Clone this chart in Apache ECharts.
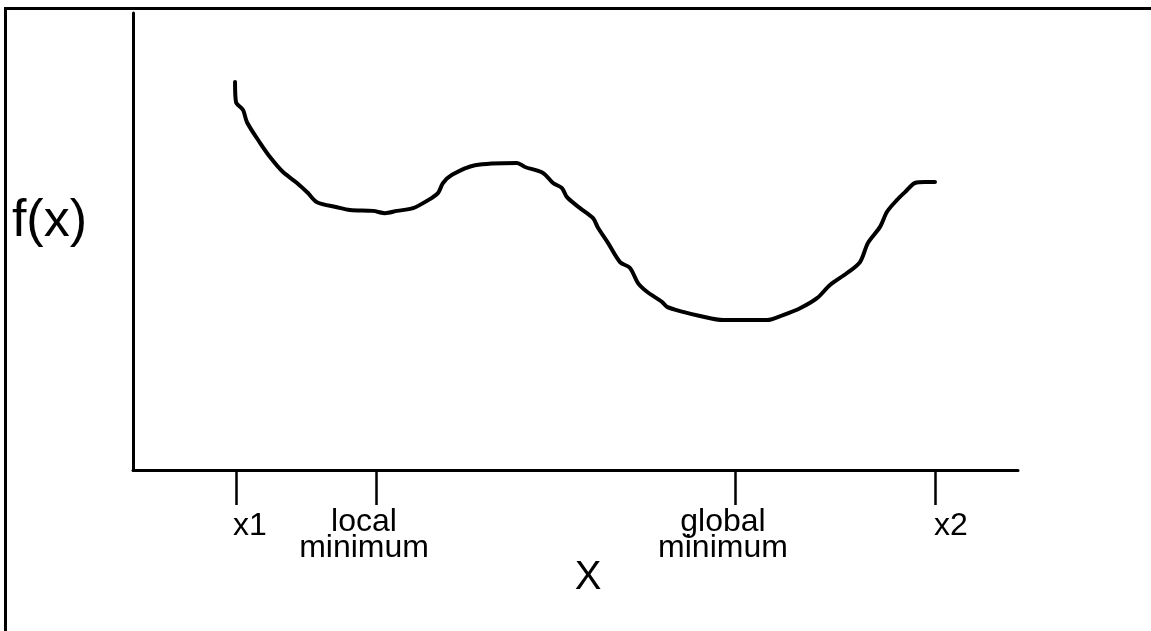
<!DOCTYPE html>
<html>
<head>
<meta charset="utf-8">
<script src="https://cdn.jsdelivr.net/npm/echarts@6/dist/echarts.min.js"></script>
<style>
  html, body { margin: 0; padding: 0; background: #fff; }
  #main { width: 1151px; height: 631px; }
  #frame {
    position: absolute; left: 4px; top: 7px; width: 1160px; height: 640px;
    border-top: 3px solid #000; border-left: 3px solid #000; pointer-events: none;
  }
</style>
</head>
<body>
<div id="main"></div>
<div id="frame"></div>
<script>
// curve (x: 0-100 along the axis, y: 0-100 up the axis)
const curveX = [11.53, 11.64, 12.43, 12.88, 14.35, 15.48, 16.95, 18.53, 19.77, 20.79,
  23.05, 24.52, 27.12, 28.47, 29.83, 31.64, 33.22, 34.46, 35.03, 36.05,
  38.64, 43.39, 44.29, 46.33, 47.46, 48.47, 49.04, 50.51, 51.98, 52.54,
  53.67, 55.03, 56.16, 57.06, 58.08, 59.77, 60.34, 62.15, 64.07, 66.67,
  71.64, 73.45, 75.37, 77.29, 78.76, 80.68, 82.15, 83.05, 84.41, 85.20,
  86.33, 87.23, 88.36, 89.49, 90.62];
const curveY = [84.9, 80.5, 78.8, 76.1, 71.6, 68.5, 65.2, 62.8, 60.6, 58.6,
  57.5, 56.9, 56.7, 56.2, 56.7, 57.3, 58.9, 60.6, 62.8, 64.6,
  66.7, 67.2, 66.3, 65.0, 62.8, 61.7, 59.7, 57.3, 55.1, 53.0,
  49.7, 45.5, 44.2, 40.9, 39.0, 36.8, 35.7, 34.6, 33.7, 32.8,
  32.8, 33.9, 35.4, 37.6, 40.5, 43.1, 45.5, 49.7, 53.2, 56.5,
  59.1, 60.8, 62.8, 63.0, 63.0];

const tickValues = [11.64, 27.46, 68.02, 90.62];
const tickLabels = ['x1', 'local\nminimum', 'global\nminimum', 'x2'];
const tickStyles = ['e1', 'm', 'm', 'e2'];

const xName = 'X';
const yName = 'f(x)';

const chart = echarts.init(document.getElementById('main'));
const font = '"Liberation Sans", Arial, sans-serif';

chart.setOption({
  animation: false,
  backgroundColor: '#fff',
  grid: { left: 133, right: 133, top: 13, bottom: 161 },
  xAxis: {
    type: 'value',
    min: 0,
    max: 100,
    name: xName,
    nameLocation: 'middle',
    nameGap: 88,
    nameMoveOverlap: false,
    nameTextStyle: { fontFamily: font, fontSize: 40, color: '#000', padding: [0, 0, 0, 25] },
    axisLine: { show: true, lineStyle: { color: '#000', width: 3 } },
    axisTick: {
      show: true, length: 35, customValues: tickValues,
      lineStyle: { color: '#000', width: 2.5 }
    },
    axisLabel: {
      show: true,
      customValues: tickValues,
      margin: 39,
      fontFamily: font,
      fontSize: 32,
      color: '#000',
      formatter: function (v) {
        let i = tickValues.indexOf(v);
        if (i < 0) return '';
        return tickLabels[i].split('\n').map(s => '{' + tickStyles[i] + '|' + s + '}').join('\n');
      },
      rich: {
        m: { fontFamily: font, fontSize: 32, lineHeight: 26, color: '#000', padding: [0, 24, 0, 0] },
        e1: { fontFamily: font, fontSize: 32, lineHeight: 26, color: '#000', padding: [9, 0, 0, 28] },
        e2: { fontFamily: font, fontSize: 32, lineHeight: 26, color: '#000', padding: [9, 0, 0, 32] }
      }
    },
    splitLine: { show: false }
  },
  yAxis: {
    type: 'value',
    min: 0,
    max: 100,
    name: yName,
    nameLocation: 'middle',
    nameRotate: 0,
    nameGap: 46,
    nameMoveOverlap: false,
    nameTextStyle: { fontFamily: font, fontSize: 52, color: '#000', verticalAlign: 'bottom', lineHeight: 40 },
    axisLine: { show: true, lineStyle: { color: '#000', width: 3 } },
    axisTick: { show: false },
    axisLabel: { show: false },
    splitLine: { show: false }
  },
  series: [{
    type: 'line',
    data: curveX.map((x, i) => [x, curveY[i]]),
    showSymbol: false,
    smooth: 0.3,
    lineStyle: { color: '#000', width: 4, cap: 'round', join: 'round' }
  }]
});
</script>
</body>
</html>
